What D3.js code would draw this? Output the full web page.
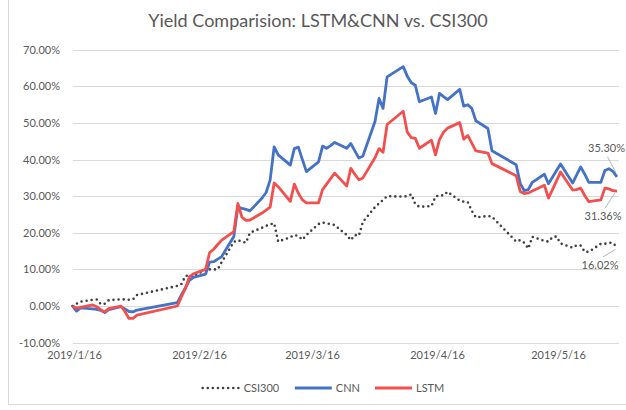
<!DOCTYPE html>
<html lang="en">
<head>
<meta charset="UTF-8">
<title>Yield Comparision</title>
<script src="https://d3js.org/d3.v7.min.js"></script>
<style>
  body {margin: 0; background: #fff}
  text {font-family: Lato, 'Liberation Sans', sans-serif; fill: #595959}
  .grid line {stroke: #d9d9d9; shape-rendering: crispEdges}
  .domain {display: none}
</style>
</head>
<body>
<script>
const width  = 626;
const height = 410;

// trading days shown on the chart
const dates = [
  "2019-01-16","2019-01-17","2019-01-18","2019-01-21","2019-01-22","2019-01-23","2019-01-24","2019-01-25",
  "2019-01-28","2019-01-29","2019-01-30","2019-01-31",
  "2019-02-01","2019-02-11","2019-02-12","2019-02-13","2019-02-14","2019-02-15","2019-02-18","2019-02-19",
  "2019-02-20","2019-02-21","2019-02-22","2019-02-25","2019-02-26","2019-02-27","2019-02-28",
  "2019-03-01","2019-03-04","2019-03-05","2019-03-06","2019-03-07","2019-03-08","2019-03-11","2019-03-12",
  "2019-03-13","2019-03-14","2019-03-15","2019-03-18","2019-03-19","2019-03-20","2019-03-21","2019-03-22",
  "2019-03-25","2019-03-26","2019-03-27","2019-03-28","2019-03-29",
  "2019-04-01","2019-04-02","2019-04-03","2019-04-04","2019-04-08","2019-04-09","2019-04-10","2019-04-11",
  "2019-04-12","2019-04-15","2019-04-16","2019-04-17","2019-04-18","2019-04-19","2019-04-22","2019-04-23",
  "2019-04-24","2019-04-25","2019-04-26","2019-04-29","2019-04-30",
  "2019-05-06","2019-05-07","2019-05-08","2019-05-09","2019-05-10","2019-05-13","2019-05-14","2019-05-15",
  "2019-05-16","2019-05-17","2019-05-20","2019-05-21","2019-05-22","2019-05-23","2019-05-24","2019-05-27",
  "2019-05-28","2019-05-29","2019-05-30","2019-05-31"
];

// cumulative yield, %
const csi300 = [
  0, 0.6, 1.2, 1.7, 1.8, 0.5, 0.6, 1.6, 1.8, 1.8, 1.7, 1.8,
  3.0, 5.5, 6.0, 8.2, 8.4, 8.0, 10.0, 10.0, 10.0, 10.0, 12.0, 17.5, 18.0, 17.6, 17.3,
  20.0, 21.4, 21.9, 22.3, 22.6, 17.6, 18.8, 19.4, 19.1, 18.1, 19.4, 22.4, 22.8, 22.6, 22.4, 22.1,
  19.4, 18.0, 19.4, 19.2, 23.0,
  27.0, 28.0, 29.0, 30.0, 29.9, 30.0, 30.5, 27.8, 27.1, 27.3, 29.9, 30.3, 30.2, 31.2, 28.8, 28.5,
  28.4, 26.0, 24.2, 24.6, 24.4,
  17.6, 18.0, 17.3, 15.7, 18.9, 17.8, 17.6, 18.8, 19.0, 17.1, 15.9, 16.6, 16.5, 14.8, 14.8, 17.0,
  17.0, 17.3, 17.2, 16.02
];
const cnn = [
  0, -1.4, -0.5, -0.8, -0.9, -1.2, -1.8, -1.0, -0.2, -0.8, -1.5, -1.6,
  -1.1, 0.9, 3.0, 5.0, 7.0, 7.8, 8.7, 12.0, 12.1, 12.8, 13.5, 19.0, 27.0, 26.7, 26.4,
  26.0, 29.5, 31.0, 34.4, 43.5, 41.3, 38.5, 43.0, 43.4, 40.0, 36.7, 39.4, 43.7, 43.1, 43.8, 44.7,
  43.1, 44.4, 42.4, 40.4, 41.0,
  50.4, 56.7, 54.0, 62.6, 65.4, 62.8, 61.0, 60.3, 55.8, 57.1, 52.6, 58.1, 57.2, 56.4, 59.2, 54.6,
  55.0, 54.0, 50.6, 48.5, 42.4,
  38.6, 33.5, 31.5, 31.8, 33.8, 36.0, 33.4, 35.2, 37.0, 38.8, 33.6, 35.8, 38.0, 36.0, 33.8, 33.8,
  37.0, 37.5, 36.8, 35.30
];
const lstm = [
  0, -0.6, -0.4, 0.3, -0.2, -1.0, -1.6, -0.7, 0.0, -1.5, -3.4, -3.4,
  -2.5, 0.0, 2.5, 4.8, 8.0, 8.8, 10.0, 14.6, 15.5, 16.8, 18.0, 20.3, 28.0, 24.3, 23.4,
  23.5, 25.4, 26.2, 27.0, 33.6, 32.6, 28.6, 33.3, 30.8, 29.0, 28.2, 28.2, 31.8, 33.3, 34.8, 36.3,
  32.8, 37.6, 36.0, 34.5, 35.0,
  40.5, 43.0, 42.0, 49.6, 53.2, 47.5, 46.0, 45.8, 43.1, 45.3, 41.3, 45.5, 47.5, 48.6, 50.1, 45.6,
  46.6, 44.5, 42.4, 41.8, 38.9,
  35.6, 31.3, 30.7, 30.9, 31.4, 33.0, 29.5, 31.8, 34.2, 36.6, 31.7, 31.8, 32.2, 30.2, 28.5, 29.0,
  32.2, 32.0, 31.5, 31.36
];

const xTicks = ["2019-01-16", "2019-02-16", "2019-03-16", "2019-04-16", "2019-05-16"];
const yTicks = [-10, 0, 10, 20, 30, 40, 50, 60, 70];
const seriesNames = ["CSI300", "CNN", "LSTM"];

const parse = d3.timeParse("%Y-%m-%d");
const days = dates.map(parse);
const pct = d => d.toFixed(2) + "%";

const left = 72.5, right = 618.5;
const x = d3.scaleTime().domain(d3.extent(days)).range([left, 617]);
const y = d3.scaleLinear().domain([-10, 70]).range([342.6, 49.8]);

const series = [
  {name: seriesNames[0], values: csi300, color: "#404040", width: 2.6, dash: "0,5.1"},
  {name: seriesNames[1], values: cnn,    color: "#4472c4", width: 2.8, dash: null},
  {name: seriesNames[2], values: lstm,   color: "#f24f4f", width: 2.8, dash: null}
];

const svg = d3.select("body").append("svg")
    .attr("width", width)
    .attr("height", height);

svg.append("rect")
    .attr("x", 8.5).attr("y", -1)
    .attr("width", 640).attr("height", 405.5)
    .attr("fill", "#fff").attr("stroke", "#d9d9d9");

// title
const title = svg.append("text")
    .attr("x", 318).attr("y", 27)
    .attr("text-anchor", "middle")
    .style("font-size", "18px")
    .text("Yield Comparision: LSTM&CNN vs. CSI300");
const tl = title.node().getComputedTextLength();
title.style("font-size", (18 * 340 / tl).toFixed(2) + "px");

// y grid + labels
svg.append("g")
    .attr("class", "grid")
    .attr("transform", `translate(${left},0)`)
    .call(d3.axisLeft(y).tickValues(yTicks).tickFormat(pct)
            .tickSize(-(right - left)).tickPadding(12.5))
    .call(g => g.selectAll("text").attr("font-family", null).style("font-size", "11px"));

// x labels
svg.append("g")
    .attr("transform", `translate(1.5,${y(-10)})`)
    .call(d3.axisBottom(x).tickValues(xTicks.map(parse))
            .tickFormat(d3.timeFormat("%Y/%-m/%-d")).tickSize(0).tickPadding(9))
    .call(g => g.selectAll("text").attr("font-family", null).style("font-size", "11px"));

const line = d3.line()
    .x((d, i) => x(days[i]))
    .y(d => y(d));

svg.append("g").selectAll("path")
    .data(series)
    .join("path")
    .attr("d", d => line(d.values))
    .attr("fill", "none")
    .attr("stroke", d => d.color)
    .attr("stroke-width", d => d.width)
    .attr("stroke-dasharray", d => d.dash)
    .attr("stroke-linecap", d => d.dash ? "round" : "butt")
    .attr("stroke-linejoin", "round");

// end value labels with leader lines
const callouts = [
  {s: series[0], tx: 618.5, ty: 22,  l: [[603, 9.5], [615.5, 2]]},
  {s: series[1], tx: 625,   ty: -25, l: [[607.5, -20], [616, -4]]},
  {s: series[2], tx: 621.5, ty: 29,  l: [[605, 17], [615, 1.5]]}
];
callouts.forEach(c => {
  const v = c.s.values[c.s.values.length - 1];
  const py = y(v);
  svg.append("line")
      .attr("x1", c.l[0][0]).attr("y1", py + c.l[0][1])
      .attr("x2", c.l[1][0]).attr("y2", py + c.l[1][1])
      .attr("stroke", "#a6a6a6").attr("stroke-width", 0.8);
  svg.append("text")
      .attr("x", c.tx).attr("y", py + c.ty)
      .attr("text-anchor", "end")
      .style("font-size", "11px")
      .text(pct(v));
});

// legend
const legend = svg.append("g").attr("transform", "translate(0,388)");
let lx = 0;
const items = legend.selectAll("g")
    .data(series)
    .join("g");
items.append("line")
    .attr("x1", 0).attr("x2", 37)
    .attr("stroke", d => d.color)
    .attr("stroke-width", d => d.width)
    .attr("stroke-dasharray", d => d.dash)
    .attr("stroke-linecap", d => d.dash ? "round" : "butt");
items.append("text")
    .attr("x", 41).attr("dy", "0.35em")
    .style("font-size", "11px")
    .text(d => d.name);
items.each(function() {
  d3.select(this).attr("transform", `translate(${lx},0)`);
  lx += this.getBBox().width + 15;
});
const lw = lx - 15;
legend.attr("transform", `translate(${323.5 - lw / 2},388)`);
</script>
</body>
</html>
